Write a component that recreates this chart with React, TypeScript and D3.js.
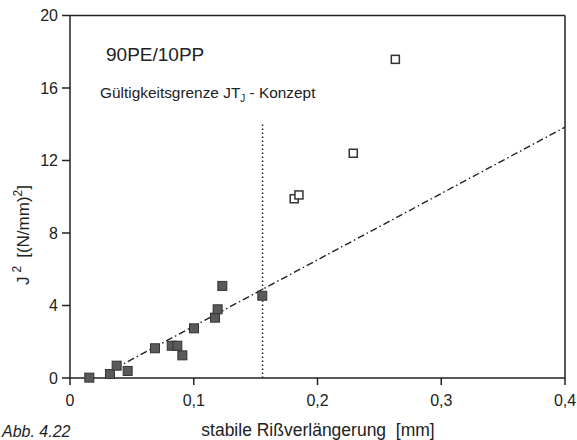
import React from "react";
import * as d3 from "d3";

const filledX = [0.0156, 0.0323, 0.0377, 0.0466, 0.0687, 0.0822, 0.0867, 0.0908, 0.1002, 0.1172, 0.1193, 0.1231, 0.1554];
const filledY = [0.02, 0.22, 0.68, 0.39, 1.64, 1.78, 1.78, 1.25, 2.74, 3.33, 3.79, 5.08, 4.54];
const openX = [0.1812, 0.185, 0.2289, 0.2629];
const openY = [9.89, 10.1, 12.4, 17.58];
const fitX = [0.0364, 0.4];
const fitY = [0.53, 13.84];
const limitX = [0.1556, 0.1556];
const limitY = [0, 14.1];
const xTicks = [0, 0.1, 0.2, 0.3, 0.4];
const yTicks = [0, 4, 8, 12, 16, 20];

const FONT = "'Liberation Sans', Arial, sans-serif";
const INK = "#222";

export default function App() {
  const x = d3.scaleLinear().domain([0, 0.4]).range([70, 565]);
  const y = d3.scaleLinear().domain([0, 20]).range([378, 15.5]);
  const line = d3.line<number>().x((d, i) => x(fitX[i])).y((d, i) => y(fitY[i]));
  const vline = d3.line<number>().x((d, i) => x(limitX[i])).y((d, i) => y(limitY[i]));
  const fmt = (v: number) => (v === 0 ? "0" : d3.format(".1f")(v).replace(".", ","));
  const fs = 9;
  const os = 8;
  return (
    <svg width={577} height={440} style={{ position: "absolute", left: 0, top: 0, background: "#fff" }} fontFamily={FONT}>
      <rect x={0} y={0} width={577} height={440} fill="#fff" />
      {/* frame */}
      <line x1={x(0)} x2={x(0.4)} y1={y(20)} y2={y(20)} stroke={INK} strokeWidth={1.5} />
      <line x1={x(0.4)} x2={x(0.4)} y1={y(20)} y2={y(0)} stroke={INK} strokeWidth={1.5} />
      <line x1={x(0)} x2={x(0.4)} y1={y(0)} y2={y(0)} stroke={INK} strokeWidth={1.5} />
      <line x1={x(0)} x2={x(0)} y1={y(20)} y2={y(0)} stroke={INK} strokeWidth={1.5} />
      {xTicks.map((t) => (
        <g key={"x" + t}>
          <line x1={x(t)} x2={x(t)} y1={y(0)} y2={y(0) + 7} stroke={INK} strokeWidth={1.5} />
          <text x={x(t)} y={y(0) + 28} textAnchor="middle" fontSize={16} fill={INK}>{fmt(t)}</text>
        </g>
      ))}
      {yTicks.map((t) => (
        <g key={"y" + t}>
          <line x1={x(0) - 8} x2={x(0)} y1={y(t)} y2={y(t)} stroke={INK} strokeWidth={1.5} />
          <text x={x(0) - 12} y={y(t) + 5.5} textAnchor="end" fontSize={16} fill={INK}>{t}</text>
        </g>
      ))}
      {/* validity limit */}
      <path d={vline([0, 1]) || ""} fill="none" stroke={INK} strokeWidth={1.5} strokeDasharray="1.5,2.5" />
      {/* fit */}
      <path d={line([0, 1]) || ""} fill="none" stroke={INK} strokeWidth={1.4} strokeDasharray="7,3,1.5,3" />
      {filledX.map((v, i) => (
        <rect key={"f" + i} x={x(v) - fs / 2} y={y(filledY[i]) - fs / 2} width={fs} height={fs} fill="#5a5a5a" stroke="#333" strokeWidth={1} />
      ))}
      {openX.map((v, i) => (
        <rect key={"o" + i} x={x(v) - os / 2} y={y(openY[i]) - os / 2} width={os} height={os} fill="#fff" stroke="#333" strokeWidth={1.5} />
      ))}
      <text x={106} y={61} fontSize={19} fill={INK}>90PE/10PP</text>
      <text x={100} y={98} fontSize={15.4} fill={INK}>
        Gültigkeitsgrenze JT<tspan fontSize={10} dy={4}>J</tspan><tspan dy={-4}> - Konzept</tspan>
      </text>
      <text x={318} y={436} textAnchor="middle" fontSize={17.5} fill={INK}>{"stabile Rißverlängerung\u00a0\u00a0[mm]"}</text>
      <g transform="translate(29,285) rotate(-90)">
        <text x={0} y={0} fontSize={17} fill={INK}>
          J<tspan fontSize={12} dx={4} dy={-8}>2</tspan><tspan dx={8} dy={8}>[(N/mm)</tspan><tspan fontSize={12} dy={-7}>2</tspan><tspan dy={7}>]</tspan>
        </text>
      </g>
      <text x={2} y={437} fontSize={16} fontStyle="italic" fill={INK}>Abb. 4.22</text>
    </svg>
  );
}
